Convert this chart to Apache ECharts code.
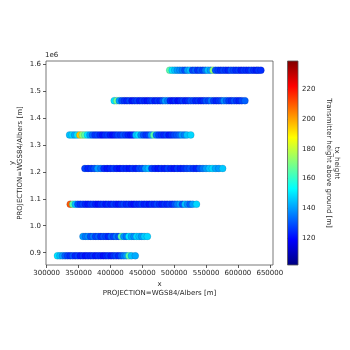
<!DOCTYPE html>
<html>
<head>
<meta charset="utf-8">
<script src="https://cdn.jsdelivr.net/npm/echarts@6/dist/echarts.min.js"></script>
<style>html,body{margin:0;padding:0;background:#fff;}#c{width:350px;height:350px;}</style>
</head>
<body>
<div id="c"></div>
<script>
// ---- data: [x (m), tx_height (m)] per transect row, row y (m) ----
const rowY = [1577000, 1464000, 1337000, 1212500, 1080000, 960500, 888500];
const row1 = [[493000,165],[497000,150],[501000,145],[505000,140],[509000,138],[513000,135],[517000,130],[521000,140],[525000,145],[529000,128],[533000,132],[537000,126],[541000,130],[545000,128],[549000,135],[553000,145],[557000,140],[561000,172],[565000,130],[569000,127],[573000,125],[577000,128],[581000,126],[585000,124],[589000,130],[593000,128],[597000,125],[601000,127],[605000,123],[609000,126],[613000,125],[617000,124],[621000,128],[625000,125],[629000,123],[632000,126],[636000,125]];
const row2 = [[406000,150],[410000,168],[414000,140],[418000,130],[422000,126],[426000,124],[430000,128],[434000,122],[438000,125],[442000,127],[446000,123],[450000,126],[454000,124],[458000,122],[462000,125],[466000,128],[470000,123],[474000,126],[478000,124],[482000,130],[486000,140],[490000,135],[494000,124],[498000,122],[502000,125],[506000,121],[510000,124],[514000,127],[518000,123],[522000,125],[526000,130],[530000,128],[534000,124],[538000,126],[542000,123],[546000,125],[550000,130],[554000,128],[558000,135],[562000,127],[566000,124],[570000,126],[574000,128],[578000,138],[582000,132],[586000,127],[590000,125],[594000,130],[598000,126],[602000,124],[606000,128],[611000,132]];
const row3 = [[336000,145],[340000,148],[344000,142],[348000,150],[352000,195],[356000,172],[360000,165],[364000,150],[368000,140],[372000,132],[376000,126],[380000,128],[384000,124],[388000,122],[392000,125],[396000,127],[400000,123],[404000,121],[408000,124],[412000,128],[416000,126],[420000,130],[424000,127],[428000,124],[432000,122],[436000,125],[440000,145],[444000,150],[448000,138],[452000,130],[456000,126],[460000,128],[464000,140],[468000,165],[472000,135],[476000,128],[480000,126],[484000,124],[488000,127],[492000,122],[496000,125],[500000,128],[504000,130],[508000,132],[512000,140],[516000,136],[520000,145],[526000,148]];
const row4 = [[360000,128],[365000,124],[370000,126],[375000,130],[380000,140],[385000,135],[390000,125],[395000,122],[400000,124],[405000,127],[410000,123],[415000,121],[420000,125],[425000,124],[430000,122],[435000,126],[440000,123],[445000,128],[450000,130],[455000,140],[460000,145],[465000,128],[470000,124],[475000,122],[480000,125],[485000,123],[490000,127],[495000,124],[500000,122],[505000,126],[510000,123],[515000,125],[520000,128],[525000,130],[530000,126],[535000,124],[540000,130],[545000,135],[550000,140],[555000,145],[560000,148],[565000,142],[570000,140],[576000,146]];
const row5 = [[337000,210],[341000,165],[345000,145],[349000,130],[353000,126],[357000,128],[361000,124],[365000,122],[369000,125],[373000,127],[377000,123],[381000,121],[385000,124],[389000,126],[393000,122],[397000,125],[401000,123],[405000,127],[409000,124],[413000,122],[417000,125],[421000,128],[425000,124],[429000,126],[433000,123],[437000,121],[441000,125],[445000,124],[449000,127],[453000,123],[457000,125],[461000,122],[465000,126],[469000,124],[473000,128],[477000,125],[481000,123],[485000,126],[489000,124],[493000,127],[497000,125],[501000,130],[505000,135],[509000,140],[513000,130],[517000,145],[521000,138],[525000,132],[529000,140],[535000,148]];
const row6 = [[357000,140],[361000,135],[365000,138],[369000,130],[373000,135],[377000,128],[381000,132],[385000,126],[389000,130],[393000,128],[397000,124],[401000,132],[405000,128],[409000,135],[413000,130],[417000,165],[421000,140],[425000,135],[429000,150],[433000,142],[437000,138],[441000,148],[445000,145],[449000,140],[453000,146],[458000,148]];
const row7 = [[317000,150],[321000,145],[325000,140],[329000,132],[333000,128],[337000,125],[341000,130],[345000,124],[349000,127],[353000,122],[357000,125],[361000,121],[365000,124],[369000,123],[373000,126],[377000,122],[381000,125],[385000,124],[389000,121],[393000,123],[397000,126],[401000,122],[405000,125],[409000,128],[413000,124],[417000,130],[421000,135],[425000,140],[429000,165],[433000,145],[439000,142]];
const rows = [row1, row2, row3, row4, row5, row6, row7];

const xTicks = [300000, 350000, 400000, 450000, 500000, 550000, 600000, 650000];
const yTicks = [900000, 1000000, 1100000, 1200000, 1300000, 1400000, 1500000, 1600000];
const cbTicks = [120, 140, 160, 180, 200, 220];
const cMin = 102, cMax = 239;
const jet = ['#00007f','#0000ff','#0080ff','#00ffff','#80ff80','#ffff00','#ff8000','#ff0000','#7f0000'];

const FONT = 'DejaVu Sans';
const TXT = '#262626';

const series = rows.map((r, i) => ({
  type: 'scatter',
  xAxisIndex: 0, yAxisIndex: 0,
  symbol: 'circle',
  symbolSize: 7,
  data: r.map(p => [p[0], rowY[i], p[1]]),
  itemStyle: { opacity: 1, borderColor: 'rgba(0,0,80,0.22)', borderWidth: 0.6 },
  silent: true,
  animation: false
}));

const gradStops = jet.slice().reverse().map((c, i) => ({ offset: i / (jet.length - 1), color: c }));

const chart = echarts.init(document.getElementById('c'), null, { renderer: 'canvas' });
chart.setOption({
  animation: false,
  backgroundColor: '#fff',
  textStyle: { fontFamily: FONT },
  grid: [
    { left: 46, top: 61, width: 227, height: 204, show: true, borderColor: '#555', borderWidth: 0.8, backgroundColor: 'transparent' },
    { left: 287.5, top: 61, width: 10.5, height: 204, show: false }
  ],
  xAxis: [
    {
      gridIndex: 0, type: 'value', min: 299000, max: 655000,
      axisLine: { show: false },
      splitLine: { show: false },
      axisTick: { show: true, length: 3, inside: false, customValues: xTicks, lineStyle: { color: '#333', width: 0.8 } },
      axisLabel: { customValues: xTicks, fontSize: 7, color: TXT, margin: 5, fontFamily: FONT, formatter: v => String(v) }
    },
    { gridIndex: 1, type: 'value', min: 0, max: 1, show: false }
  ],
  yAxis: [
    {
      gridIndex: 0, type: 'value', min: 854400, max: 1611100,
      axisLine: { show: false },
      splitLine: { show: false },
      axisTick: { show: true, length: 3, customValues: yTicks, lineStyle: { color: '#333', width: 0.8 } },
      axisLabel: { customValues: yTicks, fontSize: 7, color: TXT, margin: 5, fontFamily: FONT, formatter: v => (v / 1e6).toFixed(1) }
    },
    {
      gridIndex: 1, type: 'value', position: 'right', min: cMin, max: cMax,
      axisLine: { show: false },
      splitLine: { show: false },
      axisTick: { show: true, length: 3, customValues: cbTicks, lineStyle: { color: '#333', width: 0.8 } },
      axisLabel: { customValues: cbTicks, fontSize: 7, color: TXT, margin: 4, fontFamily: FONT }
    }
  ],
  visualMap: {
    type: 'continuous', show: false, min: cMin, max: cMax, dimension: 2,
    seriesIndex: rows.map((r, i) => i),
    inRange: { color: jet }
  },
  series: series,
  graphic: [
    { type: 'rect', shape: { x: 287.5, y: 61, width: 10.5, height: 204 }, style: { fill: { type: 'linear', x: 0, y: 0, x2: 0, y2: 1, colorStops: gradStops }, stroke: '#555', lineWidth: 0.8 }, z: 10 },
    { type: 'text', x: 45, y: 55, style: { text: '1e6', font: '7px "DejaVu Sans"', fill: TXT, textAlign: 'left', textVerticalAlign: 'middle' } },
    { type: 'text', x: 159.5, y: 284, style: { text: 'x', font: '7px "DejaVu Sans"', fill: TXT, textAlign: 'center', textVerticalAlign: 'middle' } },
    { type: 'text', x: 159.5, y: 293, style: { text: 'PROJECTION=WGS84/Albers [m]', font: '7px "DejaVu Sans"', fill: TXT, textAlign: 'center', textVerticalAlign: 'middle' } },
    { type: 'text', x: 12.5, y: 163, rotation: Math.PI / 2, style: { text: 'y', font: '7px "DejaVu Sans"', fill: TXT, textAlign: 'center', textVerticalAlign: 'middle' } },
    { type: 'text', x: 20.5, y: 163, rotation: Math.PI / 2, style: { text: 'PROJECTION=WGS84/Albers [m]', font: '7px "DejaVu Sans"', fill: TXT, textAlign: 'center', textVerticalAlign: 'middle' } },
    { type: 'text', x: 337, y: 163, rotation: -Math.PI / 2, style: { text: 'tx_height', font: '7px "DejaVu Sans"', fill: TXT, textAlign: 'center', textVerticalAlign: 'middle' } },
    { type: 'text', x: 328.5, y: 163, rotation: -Math.PI / 2, style: { text: 'Transmitter height above ground [m]', font: '7px "DejaVu Sans"', fill: TXT, textAlign: 'center', textVerticalAlign: 'middle' } }
  ]
});
</script>
</body>
</html>
